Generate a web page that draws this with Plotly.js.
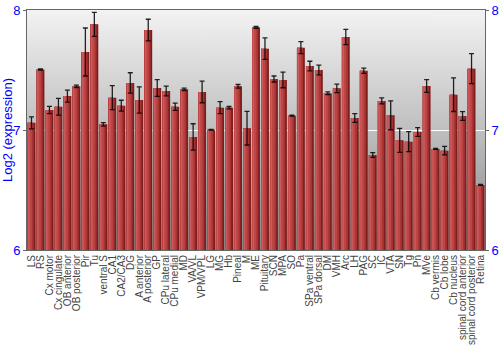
<!DOCTYPE html>
<html>
<head>
<meta charset="utf-8">
<script src="https://cdn.plot.ly/plotly-3.0.1.min.js"></script>
<style>
html,body{margin:0;padding:0;background:#fff;}
#chart{width:500px;height:350px;}
</style>
</head>
<body>
<div id="chart"></div>
<script>
const categories = ["LS","RS","Cx motor","Cx cingulate","OB anterior","OB posterior","Pir","Tu","ventral S","CA1","CA2/CA3","DG","A anterior","A posterior","GP","CPu lateral","CPu medial","MD","VA/VL","VPM/VPL","LG","MG","Hb","Pineal","M","ME","Pituitary","SCN","MPA","SO","Pa","SPa ventral","SPa dorsal","DM","VMH","Arc","LH","PAG","SC","IC","VTA","SN","Tg","Pn","MVe","Cb vermis","Cb lobe","Cb nucleus","spinal cord anterior","spinal cord posterior","Retina"];
const values = [7.06,7.505,7.167,7.194,7.283,7.364,7.65,7.881,7.047,7.269,7.203,7.392,7.25,7.833,7.35,7.325,7.194,7.339,6.942,7.317,7.003,7.186,7.186,7.364,7.015,7.856,7.678,7.425,7.417,7.119,7.686,7.533,7.5,7.306,7.347,7.775,7.1,7.494,6.792,7.242,7.122,6.914,6.903,6.983,7.367,6.842,6.828,7.294,7.117,7.511,6.542];
const errors = [0.05,0.005,0.03,0.07,0.05,0.01,0.2,0.1,0.015,0.1,0.045,0.085,0.11,0.09,0.07,0.04,0.03,0.01,0.11,0.09,0.003,0.05,0.01,0.015,0.14,0.008,0.09,0.025,0.065,0.004,0.05,0.04,0.04,0.012,0.036,0.063,0.037,0.022,0.02,0.025,0.12,0.1,0.083,0.036,0.053,0.004,0.035,0.14,0.036,0.125,0.004];
const yTicks = [6,7,8];

// background gradient image
const cv = document.createElement('canvas');
cv.width = 4; cv.height = 256;
const ctx = cv.getContext('2d');
const g = ctx.createLinearGradient(0,0,0,256);
g.addColorStop(0,'#f3f3f3');
g.addColorStop(0.5,'#bfbfbf');
g.addColorStop(1,'#858585');
ctx.fillStyle = g; ctx.fillRect(0,0,4,256);
const bgURL = cv.toDataURL('image/png');

const W = 0.88, L = -0.44;
function layerTrace(color, off, wid){
  return {type:'bar', x:categories, y:values, marker:{color:color, line:{width:0}},
    offset:off, width:wid, hoverinfo:'skip', showlegend:false};
}
const traces = [
  layerTrace('#7d1e1e', L, W),
  layerTrace('#a83333', L, W*0.78),
  layerTrace('#bf4545', L, W*0.55),
  layerTrace('#cc5c5c', L+W*0.08, W*0.18),
  {type:'bar', x:categories, y:values, yaxis:'y2', offset:L, width:W,
   marker:{color:'rgba(0,0,0,0)', line:{width:0}}, showlegend:false,
   error_y:{type:'data', array:errors, visible:true, color:'rgba(0,0,0,0.85)', thickness:1.3, width:2.5}}
];

const font = 'Liberation Sans, Arial, sans-serif';
const layout = {
  width:500, height:350,
  margin:{l:27, r:15, t:10, b:100},
  paper_bgcolor:'#ffffff',
  plot_bgcolor:'rgba(0,0,0,0)',
  barmode:'overlay',
  font:{family:font},
  images:[{source:bgURL, xref:'paper', yref:'paper', x:0, y:1, sizex:1, sizey:1,
    sizing:'stretch', xanchor:'left', yanchor:'top', layer:'below'}],
  xaxis:{type:'category', tickmode:'linear', tick0:0, dtick:1, tickangle:-90,
    tickfont:{size:10, color:'#444', family:font},
    showline:true, mirror:true, linecolor:'#666', linewidth:1, ticks:'', layer:'below traces',
    automargin:false, showgrid:false},
  yaxis:{range:[6,8], tickvals:yTicks, ticktext:yTicks.map(String), showgrid:true, gridcolor:'#ffffff', gridwidth:1,
    zeroline:false, showline:true, linecolor:'#666', ticks:'outside', ticklen:3, tickcolor:'#666',
    tickfont:{size:13, color:'#0000ff', family:font}, automargin:false,
    title:{text:'Log2 (expression)', font:{size:13, color:'#0000ff', family:font}, standoff:3}},
  yaxis2:{range:[6,8], tickvals:yTicks, overlaying:'y', side:'right', showgrid:false, zeroline:false,
    showline:true, linecolor:'#666', ticks:'outside', ticklen:3, tickcolor:'#666',
    tickfont:{size:13, color:'#0000ff', family:font}, automargin:false}
};
Plotly.newPlot('chart', traces, layout, {displayModeBar:false, staticPlot:true});
</script>
</body>
</html>
